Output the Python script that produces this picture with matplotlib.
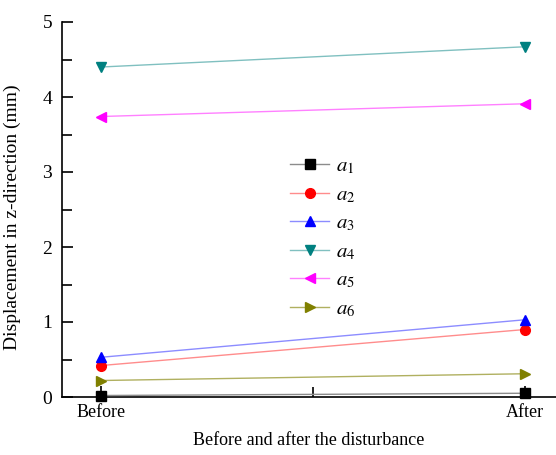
import matplotlib
matplotlib.use("Agg")
import matplotlib.pyplot as plt
from matplotlib.ticker import MultipleLocator

plt.rcParams['font.family'] = ['Liberation Serif', 'DejaVu Serif']
plt.rcParams['mathtext.fontset'] = 'stix'

categories = ['Before', 'After']
series_labels = ['$a_1$', '$a_2$', '$a_3$', '$a_4$', '$a_5$', '$a_6$']
a1 = [0.02, 0.05]
a2 = [0.42, 0.90]
a3 = [0.53, 1.03]
a4 = [4.40, 4.67]
a5 = [3.74, 3.91]
a6 = [0.22, 0.31]
values = [a1, a2, a3, a4, a5, a6]

marker_colors = ['#000000', '#ff0000', '#0000ff', '#008080', '#ff00ff', '#808000']
line_colors = ['#8c8c8c', '#ff8c8c', '#8c8cff', '#80c0c0', '#ff80ff', '#b0b060']
markers = ['s', 'o', '^', 'v', '<', '>']

fig = plt.figure(figsize=(5.56, 4.55), dpi=100)
ax = fig.add_axes([62/556, 1-397/455, 1-62/556, (397-22)/455])

x = list(range(len(categories)))
for vals, lab, mc, lc, mk in zip(values, series_labels, marker_colors, line_colors, markers):
    ax.plot(x, vals, color=lc, lw=1.0, marker=mk, markersize=7,
            markerfacecolor=mc, markeredgecolor=mc, label=lab, clip_on=False, zorder=3)

ax.set_xlim(-0.093, 1.073)
ax.set_ylim(0, 5)
ax.set_xticks(x)
ax.set_xticklabels(categories, fontsize=13)
ax.xaxis.set_minor_locator(MultipleLocator(0.5))
ax.yaxis.set_major_locator(MultipleLocator(1))
ax.yaxis.set_minor_locator(MultipleLocator(0.5))
ax.tick_params(axis='both', which='major', direction='in', length=8, width=1.2, labelsize=14)
ax.tick_params(axis='both', which='minor', direction='in', length=7, width=1.2)
ax.tick_params(axis='x', labelsize=13, pad=5)
ax.tick_params(axis='y', pad=7)
for s in ['top', 'right']:
    ax.spines[s].set_visible(False)
for s in ['left', 'bottom']:
    ax.spines[s].set_linewidth(1.2)

ax.set_ylabel('Displacement in z-direction (mm)', fontsize=14)
ax.yaxis.set_label_coords(-(62-21)/(556-62), 0.48)
ax.set_xlabel('Before and after the disturbance', fontsize=13, labelpad=8)

ax.legend(loc='upper left', bbox_to_anchor=(271/556, 1-138/455), bbox_transform=fig.transFigure,
          frameon=False, fontsize=15, handlelength=1.9, labelspacing=0.43, handletextpad=0.3)

fig.savefig('out.png', dpi=100)
